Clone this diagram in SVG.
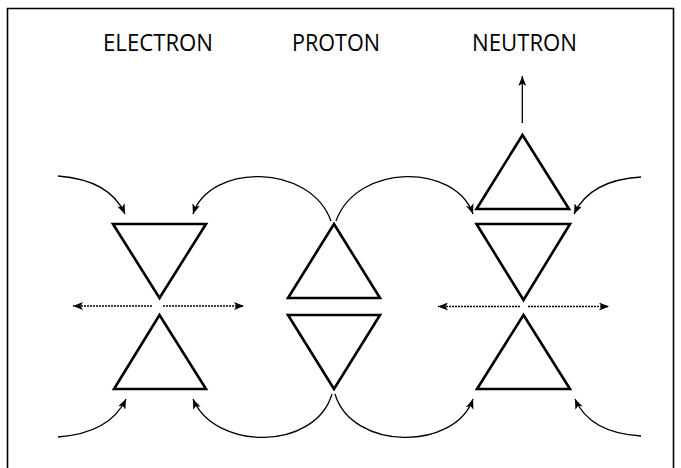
<svg xmlns="http://www.w3.org/2000/svg" width="681" height="468" viewBox="0 0 681 468">
<style>
.tri{fill:none;stroke:#000;stroke-width:2.6;stroke-linejoin:miter}
.cur{fill:none;stroke:#000;stroke-width:1.3;marker-end:url(#ah)}
.dot{fill:none;stroke:#000;stroke-width:1.3;stroke-dasharray:2 1;marker-end:url(#ah)}
.lbl{font-family:"Open Sans","Liberation Sans",sans-serif;font-size:23px;fill:#000;text-anchor:start}
.frame{fill:none;stroke:#000;stroke-width:1.6}
</style>
<defs>
<marker id="ah" viewBox="0 0 10 8" refX="10" refY="4" markerWidth="10" markerHeight="8" markerUnits="userSpaceOnUse" orient="auto">
<path d="M0,0 L10,4 L0,8 L2.5,4 Z" fill="#000"/>
</marker>
</defs>
<rect width="681" height="468" fill="#fff"/>
<path class="frame" d="M7.5,468 V8.5 H673.5 V468"/>
<g id="labels">
<text class="lbl" x="103" y="51" textLength="110" lengthAdjust="spacingAndGlyphs">ELECTRON</text>
<text class="lbl" x="292" y="51" textLength="88" lengthAdjust="spacingAndGlyphs">PROTON</text>
<text class="lbl" x="472" y="51" textLength="105" lengthAdjust="spacingAndGlyphs">NEUTRON</text>
</g>
<g id="electron">
<polygon class="tri" points="113,224 206,224 159.5,298"/>
<polygon class="tri" points="159.5,315 206,389 114,389"/>
</g>
<g id="proton">
<polygon class="tri" points="334,224 380,298 288,298"/>
<polygon class="tri" points="288,315 380,315 334,389"/>
</g>
<g id="neutron">
<polygon class="tri" points="522.5,135 569,209 476.5,209"/>
<polygon class="tri" points="476.5,224 570,224 523.5,300"/>
<polygon class="tri" points="523.5,315 570,389 477,389"/>
</g>
<g id="connectors">
<path class="cur" d="M522.3,123 V76"/>
<path class="cur" d="M58,176 Q110,180 125,214"/>
<path class="cur" d="M331,221 C310,163 210,163 193,214"/>
<path class="cur" d="M336,221 C357,163 455,163 473,214"/>
<path class="cur" d="M641,177 Q590,180 574,214"/>
<path class="cur" d="M58,437 Q110,433 126,399"/>
<path class="cur" d="M332,394 C315,451 215,451 193,399"/>
<path class="cur" d="M335,394 C352,451 455,451 473,399"/>
<path class="cur" d="M641,436 Q590,433 575,399"/>
<path class="dot" d="M152,306 H73"/>
<path class="dot" d="M163,306 H244"/>
<path class="dot" d="M520,306.5 H438"/>
<path class="dot" d="M528,306.5 H609"/>
</g>
</svg>
